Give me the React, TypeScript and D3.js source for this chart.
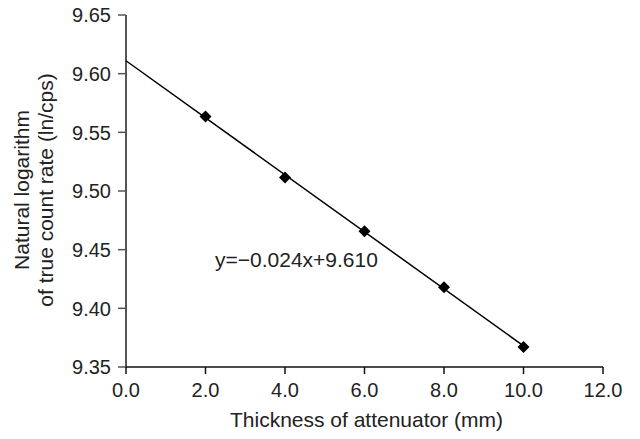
import React from 'react';
import { scaleLinear, line, symbol, symbolSquare } from 'd3';

// measured points (thickness in mm, ln of true count rate)
const thickness = [2, 4, 6, 8, 10];
const lnRate = [9.5636, 9.5115, 9.4657, 9.418, 9.367];

// fitted trend line, as printed on the chart
const trendSlope = -0.0243;
const trendIntercept = 9.611;
const trendRange = [0, 10];
const equationLabel = 'y=\u22120.024x+9.610';

const xTicks = [0, 2, 4, 6, 8, 10, 12];
const yTicks = [9.35, 9.4, 9.45, 9.5, 9.55, 9.6, 9.65];

const xTitle = 'Thickness of attenuator (mm)';
const yTitle = ['Natural logarithm', 'of true count rate (ln/cps)'];

export default function App() {
    const width = 640,
        height = 439,
        left = 126,
        right = 603,
        top = 15,
        bottom = 367;

    const font = 'Arial, "Liberation Sans", Helvetica, sans-serif';

    const x = scaleLinear().domain([0, 12]).range([left, right]);
    const y = scaleLinear().domain([9.35, 9.65]).range([bottom, top]);

    const trendLine = line<number>()
        .x((d) => x(d))
        .y((d) => y(trendIntercept + trendSlope * d));

    const marker = symbol().type(symbolSquare).size(72)();

    return (
        <svg width={width} height={height} style={{ position: 'absolute', left: 0, top: 0, background: '#fff' }}>
            {/* y axis */}
            <line x1={left} x2={left} y1={top} y2={bottom} stroke='#555' strokeWidth={2} />
            {yTicks.map((t) => (
                <g key={t}>
                    <line x1={left - 8} x2={left} y1={y(t)} y2={y(t)} stroke='#555' strokeWidth={1.5} />
                    <text x={left - 15} y={y(t)} dy='0.36em' textAnchor='end' fontFamily={font} fontSize={20} fill='#222'>
                        {t.toFixed(2)}
                    </text>
                </g>
            ))}

            {/* x axis */}
            <line x1={left} x2={right} y1={bottom} y2={bottom} stroke='#111' strokeWidth={1.5} />
            {xTicks.map((t) => (
                <g key={t}>
                    <line x1={x(t)} x2={x(t)} y1={bottom} y2={bottom + 7} stroke='#111' strokeWidth={1.5} />
                    <text x={x(t)} y={397} textAnchor='middle' fontFamily={font} fontSize={20} fill='#222'>
                        {t.toFixed(1)}
                    </text>
                </g>
            ))}

            <text x={(left + right) / 2 + 2} y={427} textAnchor='middle' fontFamily={font} fontSize={21} fill='#222'>
                {xTitle}
            </text>
            {yTitle.map((s, i) => (
                <text
                    key={s}
                    transform={`translate(${29 + i * 24},190) rotate(-90)`}
                    textAnchor='middle'
                    fontFamily={font}
                    fontSize={21}
                    fill='#222'>
                    {s}
                </text>
            ))}

            {/* trend line */}
            <path d={trendLine(trendRange) || ''} fill='none' stroke='#000' strokeWidth={1.5} />

            {/* data markers */}
            {thickness.map((d, i) => (
                <path key={d} d={marker || ''} transform={`translate(${x(d)},${y(lnRate[i])}) rotate(45)`} fill='#000' />
            ))}

            <text x={215} y={267} fontFamily={font} fontSize={21} fill='#222'>
                {equationLabel}
            </text>
        </svg>
    );
}
